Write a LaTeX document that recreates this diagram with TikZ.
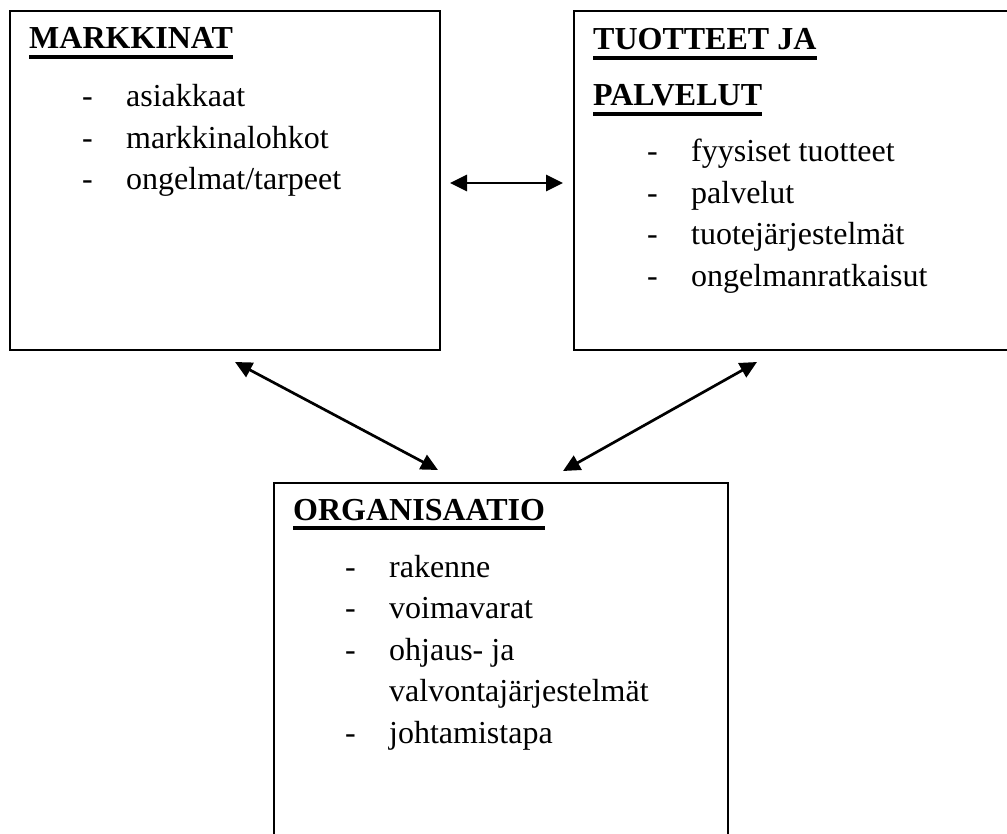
\documentclass[tikz,border=0pt]{standalone}
\usepackage{fontspec}
\setmainfont{Liberation Serif}
\usetikzlibrary{arrows.meta}
\newcommand{\dashitem}[1]{\makebox[44pt][l]{-}#1}
\begin{document}
\begin{tikzpicture}[x=1pt,y=-1pt,
  box/.style={draw, line width=2pt, inner sep=0pt, anchor=north west},
  head/.style={anchor=base west, inner sep=0pt, font=\fontsize{32}{38}\selectfont\bfseries},
  item/.style={anchor=base west, inner sep=0pt, font=\fontsize{32}{38}\selectfont},
  link/.style={line width=2.7pt, {Triangle[length=17pt,width=16pt]}-{Triangle[length=17pt,width=16pt]}},
  uline/.style={line width=3.6pt}]
\useasboundingbox (0,0) rectangle (1007,834);
% boxes
\node[box, minimum width=430pt, minimum height=339pt] (mk) at (9,10) {};
\node[box, minimum width=450pt, minimum height=339pt] (tp) at (573,10) {};
\node[box, minimum width=454pt, minimum height=420pt] (org) at (273,482) {};
% left box
\node[head] (h1) at (29,49) {MARKKINAT};
\draw[uline] ([yshift=-8pt]h1.base west) -- ([yshift=-8pt]h1.base east);
\node[item] (m1) at (82,107) {\dashitem{asiakkaat}};
\node[item] (m2) at (82,148.5) {\dashitem{markkinalohkot}};
\node[item] (m3) at (82,190) {\dashitem{ongelmat/tarpeet}};
% right box
\node[head] (h2a) at (593,50) {TUOTTEET JA};
\draw[uline] ([yshift=-8pt]h2a.base west) -- ([yshift=-8pt]h2a.base east);
\node[head] (h2b) at (593,106) {PALVELUT};
\draw[uline] ([yshift=-8pt]h2b.base west) -- ([yshift=-8pt]h2b.base east);
\node[item] (t1) at (647,162) {\dashitem{fyysiset tuotteet}};
\node[item] (t2) at (647,203.5) {\dashitem{palvelut}};
\node[item] (t3) at (647,245) {\dashitem{tuotejärjestelmät}};
\node[item] (t4) at (647,286.5) {\dashitem{ongelmanratkaisut}};
% bottom box
\node[head] (h3) at (293,520) {ORGANISAATIO};
\draw[uline] ([yshift=-8pt]h3.base west) -- ([yshift=-8pt]h3.base east);
\node[item] (o1) at (345,577) {\dashitem{rakenne}};
\node[item] (o2) at (345,618.5) {\dashitem{voimavarat}};
\node[item] (o3) at (345,660) {\dashitem{ohjaus- ja}};
\node[item] (o4) at (389,701.5) {valvontajärjestelmät};
\node[item] (o5) at (345,743) {\dashitem{johtamistapa}};
% arrows
\coordinate (a1) at (450,183);
\coordinate (a2) at (563,183);
\coordinate (b1) at (235,362);
\coordinate (b2) at (438,470);
\coordinate (c1) at (757,362);
\coordinate (c2) at (563,471);
\draw[link] (a1) -- (a2);
\draw[link] (b1) -- (b2);
\draw[link] (c1) -- (c2);
\end{tikzpicture}
\end{document}
